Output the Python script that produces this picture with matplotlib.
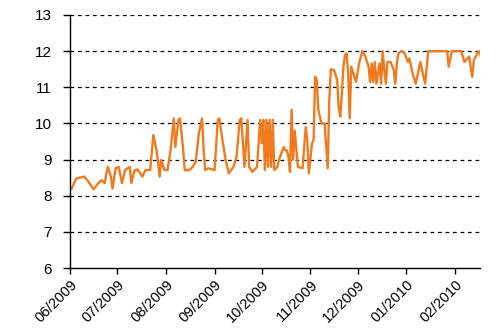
import matplotlib
matplotlib.use("Agg")
import matplotlib.pyplot as plt
import matplotlib.dates as mdates
import numpy as np
import pandas as pd

start_date = "2009-06-01"
end_date = "2010-02-17"
# days since start_date
days = [1, 4, 9, 11, 15, 18, 20, 22, 24, 26, 27, 29, 31, 33, 35, 38, 39, 41, 43, 46,
        48, 51, 53, 55, 56, 57, 58, 60, 62, 64, 66, 67, 69, 70, 72, 73, 76, 78, 80, 82,
        84, 85, 86, 88, 92, 94, 95, 97, 99, 101, 104, 106, 108, 109, 111, 113, 114, 116, 119, 121,
        122, 123, 124, 125, 126, 127, 128, 129, 130, 132, 133, 136, 137, 138, 139, 140, 141, 142, 143, 145,
        148, 150, 151, 152, 154, 155, 156, 157, 158, 160, 162, 164, 165, 166, 168, 170, 171, 172, 173, 174,
        175, 176, 177, 178, 179, 180, 182, 184, 186, 188, 190, 191, 192, 193, 194, 195, 197, 198, 199, 200,
        201, 202, 204, 206, 207, 208, 209, 211, 213, 215, 216, 218, 220, 223, 224, 226, 228, 240, 241, 243,
        249, 251, 254, 256, 257, 260, 261, 262]
values = [8.2, 8.48, 8.53, 8.43, 8.18, 8.35, 8.43, 8.35, 8.8, 8.53, 8.2, 8.76, 8.8, 8.35, 8.71, 8.8, 8.35, 8.7, 8.73, 8.53,
          8.71, 8.71, 9.68, 9.26, 8.94, 8.53, 8.99, 8.71, 8.71, 9.26, 10.14, 9.35, 10.1, 10.14, 9.26, 8.71, 8.71, 8.8, 8.94, 9.73,
          10.14, 9.3, 8.71, 8.76, 8.71, 10.1, 10.14, 9.54, 8.99, 8.62, 8.8, 9.08, 10.1, 10.14, 8.8, 10.1, 8.8, 8.66, 8.8, 10.1,
          9.45, 10.1, 8.71, 10.1, 8.8, 10.1, 8.8, 10.1, 8.71, 8.8, 9.0, 9.35, 9.26, 9.26, 9.08, 8.66, 10.38, 9.0, 9.8, 8.8,
          8.76, 9.9, 9.54, 8.62, 9.45, 9.54, 11.29, 11.2, 10.38, 10.0, 10.0, 8.76, 10.65, 11.5, 11.48, 11.2, 10.42, 10.19, 10.83, 11.57,
          11.89, 11.94, 11.39, 10.14, 11.57, 11.43, 11.15, 11.66, 12.0, 11.85, 11.57, 11.15, 11.66, 11.15, 11.7, 11.1, 11.66, 11.1, 12.0, 11.48,
          11.1, 11.7, 11.7, 11.48, 11.1, 11.66, 11.94, 12.0, 11.94, 11.7, 11.8, 11.39, 11.1, 11.7, 11.48, 11.1, 12.0, 12.0, 11.57, 12.0,
          12.0, 11.7, 11.85, 11.29, 11.75, 12.0, 11.94, 11.75]
y_ticks = [6, 7, 8, 9, 10, 11, 12, 13]

dates = pd.to_datetime(start_date) + pd.to_timedelta(days, unit="D")

plt.rcParams["font.family"] = ["Liberation Sans", "DejaVu Sans"]
fig = plt.figure(figsize=(4.97, 3.33), dpi=100)
ax = fig.add_axes([0.141, 0.195, 0.825, 0.76])

ax.plot(dates, values, color="#F27A1E", linewidth=1.7, solid_joinstyle="round")

ax.set_ylim(6, 13)
ax.set_yticks(y_ticks)
ax.set_xlim(pd.to_datetime(start_date), pd.to_datetime(end_date))
ax.xaxis.set_major_locator(mdates.MonthLocator())
ax.xaxis.set_major_formatter(mdates.DateFormatter("%m/%Y"))

for y in y_ticks[1:]:
    ax.axhline(y, color="black", linewidth=0.9, linestyle=(0, (3, 3)), zorder=0)

for s in ["top", "right"]:
    ax.spines[s].set_visible(False)
for s in ["left", "bottom"]:
    ax.spines[s].set_color("black")
    ax.spines[s].set_linewidth(1.0)

ax.tick_params(axis="y", direction="out", length=5, width=1, labelsize=11, pad=8)
ax.tick_params(axis="x", direction="out", length=4, width=1, labelsize=10.5, pad=3)
for lbl in ax.get_xticklabels():
    lbl.set_rotation(45)
    lbl.set_ha("right")
    lbl.set_rotation_mode("anchor")

fig.savefig("out.png", dpi=100)
